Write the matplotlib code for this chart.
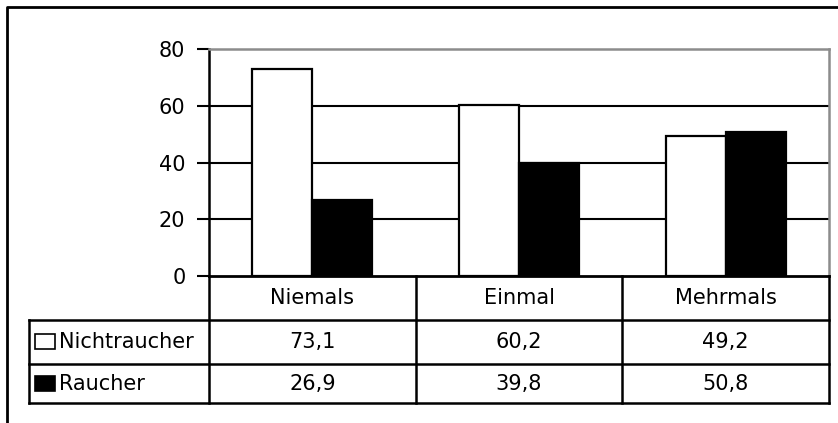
import numpy as np
import matplotlib
matplotlib.use('Agg')
import matplotlib.pyplot as plt
from matplotlib.patches import Rectangle

#data
categories = ['Niemals', 'Einmal', 'Mehrmals']
series = ['Nichtraucher', 'Raucher']
nichtraucher = [73.1, 60.2, 49.2]
raucher = [26.9, 39.8, 50.8]
yticks = [0, 20, 40, 60, 80]

plt.rcParams['font.family'] = ['DejaVu Sans']
fs = 15

W, H = 838, 423
fig = plt.figure(figsize=(W/100, H/100), dpi=100)

#plot area in pixel units (from top-left)
left, right, top, bottom = 209, 829, 49, 276
ax = fig.add_axes([left/W, 1-bottom/H, (right-left)/W, (bottom-top)/H])
x = np.arange(len(categories))
w = 0.29
ax.bar(x - w/2, nichtraucher, w, color='white', edgecolor='black', lw=1.6, zorder=3)
ax.bar(x + w/2, raucher, w, color='black', edgecolor='black', lw=1.6, zorder=3)
ax.set_xlim(-0.5, len(categories)-0.5)
ax.set_ylim(yticks[0], yticks[-1])
ax.set_yticks(yticks)
ax.set_yticklabels([str(t) for t in yticks], fontsize=fs)
ax.set_xticks([])
for t in yticks[1:-1]:
  ax.axhline(t, color='black', lw=1.5, zorder=1)
ax.tick_params(axis='y', direction='out', length=9, width=1.5, pad=8, colors='black')
ax.spines['left'].set_linewidth(1.8)
ax.spines['bottom'].set_linewidth(2)
for s in ['top', 'right']:
  ax.spines[s].set_color('#8c8c8c')
  ax.spines[s].set_linewidth(1.8)

#overlay in pixel coords for the data table and the outer frame
ov = fig.add_axes([0, 0, 1, 1])
ov.set_xlim(0, W)
ov.set_ylim(H, 0)
ov.axis('off')

#column edges of the table from the bar axes' scale
col_edges = [ax.transData.transform((c, 0))[0] for c in np.arange(-0.5, len(categories), 1.0)]
col_mid = [ax.transData.transform((c, 0))[0] for c in x]
row_edges = [bottom, 320, 364, 403]
leg_left = 29

kw = dict(color='black', lw=1.8, solid_capstyle='projecting')
for ce in col_edges[1:]:
  ov.plot([ce, ce], [row_edges[0], row_edges[-1]], **kw)
ov.plot([col_edges[0], col_edges[0]], [row_edges[0], row_edges[-1]], **kw)
for re in row_edges[1:]:
  ov.plot([leg_left, col_edges[-1]], [re, re], **kw)
ov.plot([leg_left, leg_left], [row_edges[1], row_edges[-1]], **kw)

#category row
cy = (row_edges[0] + row_edges[1]) / 2
for cx, lab in zip(col_mid, categories):
  ov.text(cx, cy, lab, ha='center', va='center', fontsize=fs)

#value rows with legend keys
colors = ['white', 'black']
for i, (name, vals) in enumerate(zip(series, [nichtraucher, raucher])):
  ry = (row_edges[i+1] + row_edges[i+2]) / 2
  ov.add_patch(Rectangle((35, ry-7.5), 20, 15, facecolor=colors[i], edgecolor='black', lw=1.2))
  ov.text(59, ry, name, ha='left', va='center', fontsize=fs)
  for cx, v in zip(col_mid, vals):
    ov.text(cx, ry, ('%.1f' % v).replace('.', ','), ha='center', va='center', fontsize=fs)

#outer chart frame (cut off at right and bottom)
ov.plot([7, 7, W+5], [H+5, 7, 7], color='black', lw=2)

fig.savefig('out.png', dpi=100)
